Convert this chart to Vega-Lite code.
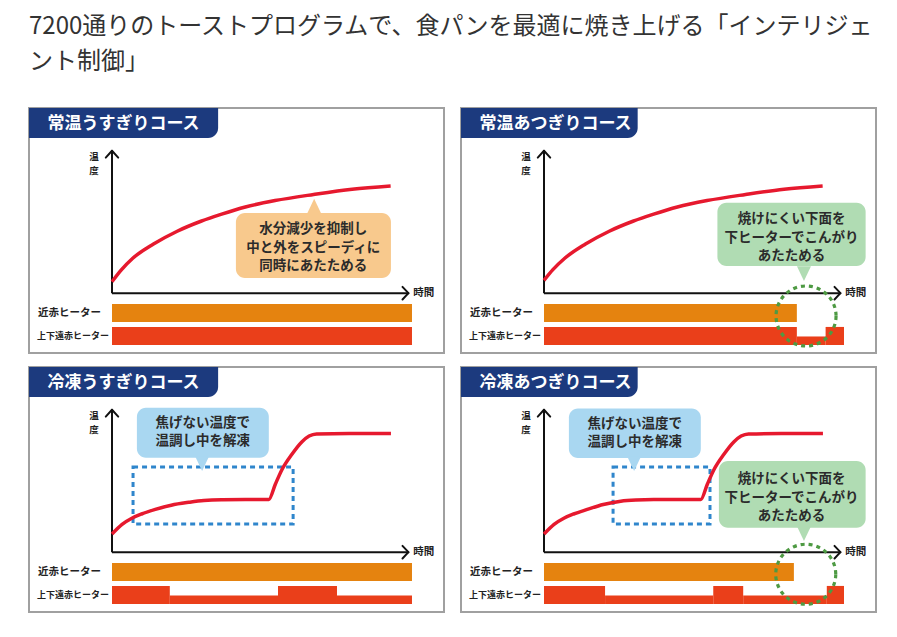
{
  "$schema": "https://vega.github.io/schema/vega-lite/v6.json",
  "background": "white",
  "padding": {"left": 28, "top": 15, "right": 0, "bottom": 0},
  "title": {
    "text": ["7200通りのトーストプログラムで、食パンを最適に焼き上げる「インテリジェ", "ント制御」"],
    "anchor": "start",
    "frame": "group",
    "font": "Noto Sans CJK JP",
    "fontSize": 24,
    "fontWeight": "normal",
    "color": "#333333",
    "lineHeight": 35,
    "offset": 33
  },
  "data": {
    "values": [
      {"kind": "tab", "course": "常温うすぎりコース"},
      {"kind": "tab", "course": "常温あつぎりコース"},
      {"kind": "tab", "course": "冷凍うすぎりコース"},
      {"kind": "tab", "course": "冷凍あつぎりコース"},

      {"kind": "temp", "course": "常温うすぎりコース", "time": 0, "temp": 8},
      {"kind": "temp", "course": "常温うすぎりコース", "time": 3, "temp": 16},
      {"kind": "temp", "course": "常温うすぎりコース", "time": 7, "temp": 24.5},
      {"kind": "temp", "course": "常温うすぎりコース", "time": 14, "temp": 34.5},
      {"kind": "temp", "course": "常温うすぎりコース", "time": 22, "temp": 43.5},
      {"kind": "temp", "course": "常温うすぎりコース", "time": 30, "temp": 50.5},
      {"kind": "temp", "course": "常温うすぎりコース", "time": 37, "temp": 55.5},
      {"kind": "temp", "course": "常温うすぎりコース", "time": 45, "temp": 60.5},
      {"kind": "temp", "course": "常温うすぎりコース", "time": 55, "temp": 65},
      {"kind": "temp", "course": "常温うすぎりコース", "time": 68, "temp": 69.3},
      {"kind": "temp", "course": "常温うすぎりコース", "time": 81, "temp": 73},
      {"kind": "temp", "course": "常温うすぎりコース", "time": 94, "temp": 75.3},

      {"kind": "temp", "course": "常温あつぎりコース", "time": 0, "temp": 9},
      {"kind": "temp", "course": "常温あつぎりコース", "time": 3, "temp": 16.5},
      {"kind": "temp", "course": "常温あつぎりコース", "time": 7, "temp": 24.5},
      {"kind": "temp", "course": "常温あつぎりコース", "time": 14, "temp": 34.5},
      {"kind": "temp", "course": "常温あつぎりコース", "time": 22, "temp": 43.5},
      {"kind": "temp", "course": "常温あつぎりコース", "time": 30, "temp": 50.5},
      {"kind": "temp", "course": "常温あつぎりコース", "time": 37, "temp": 55.5},
      {"kind": "temp", "course": "常温あつぎりコース", "time": 45, "temp": 60.5},
      {"kind": "temp", "course": "常温あつぎりコース", "time": 55, "temp": 65},
      {"kind": "temp", "course": "常温あつぎりコース", "time": 68, "temp": 69.3},
      {"kind": "temp", "course": "常温あつぎりコース", "time": 81, "temp": 73},
      {"kind": "temp", "course": "常温あつぎりコース", "time": 94, "temp": 75.3},

      {"kind": "temp", "course": "冷凍うすぎりコース", "time": 0, "temp": 12.7},
      {"kind": "temp", "course": "冷凍うすぎりコース", "time": 3.4, "temp": 19.5},
      {"kind": "temp", "course": "冷凍うすぎりコース", "time": 6.7, "temp": 23.8},
      {"kind": "temp", "course": "冷凍うすぎりコース", "time": 10, "temp": 26.8},
      {"kind": "temp", "course": "冷凍うすぎりコース", "time": 14.6, "temp": 30},
      {"kind": "temp", "course": "冷凍うすぎりコース", "time": 20, "temp": 33},
      {"kind": "temp", "course": "冷凍うすぎりコース", "time": 25.9, "temp": 35},
      {"kind": "temp", "course": "冷凍うすぎりコース", "time": 31, "temp": 36.3},
      {"kind": "temp", "course": "冷凍うすぎりコース", "time": 37, "temp": 36.8},
      {"kind": "temp", "course": "冷凍うすぎりコース", "time": 45, "temp": 36.9},
      {"kind": "temp", "course": "冷凍うすぎりコース", "time": 52.9, "temp": 37},
      {"kind": "temp", "course": "冷凍うすぎりコース", "time": 55.1, "temp": 47.7},
      {"kind": "temp", "course": "冷凍うすぎりコース", "time": 57.4, "temp": 58.2},
      {"kind": "temp", "course": "冷凍うすぎりコース", "time": 60.7, "temp": 68.7},
      {"kind": "temp", "course": "冷凍うすぎりコース", "time": 64.1, "temp": 77.5},
      {"kind": "temp", "course": "冷凍うすぎりコース", "time": 66.5, "temp": 81.5},
      {"kind": "temp", "course": "冷凍うすぎりコース", "time": 69, "temp": 83},
      {"kind": "temp", "course": "冷凍うすぎりコース", "time": 80, "temp": 83.3},
      {"kind": "temp", "course": "冷凍うすぎりコース", "time": 94.1, "temp": 83.3},

      {"kind": "temp", "course": "冷凍あつぎりコース", "time": 0, "temp": 12.7},
      {"kind": "temp", "course": "冷凍あつぎりコース", "time": 3.4, "temp": 19.5},
      {"kind": "temp", "course": "冷凍あつぎりコース", "time": 6.7, "temp": 23.8},
      {"kind": "temp", "course": "冷凍あつぎりコース", "time": 10, "temp": 26.8},
      {"kind": "temp", "course": "冷凍あつぎりコース", "time": 14.6, "temp": 30},
      {"kind": "temp", "course": "冷凍あつぎりコース", "time": 20, "temp": 33.5},
      {"kind": "temp", "course": "冷凍あつぎりコース", "time": 25.9, "temp": 35.8},
      {"kind": "temp", "course": "冷凍あつぎりコース", "time": 31, "temp": 36.6},
      {"kind": "temp", "course": "冷凍あつぎりコース", "time": 37, "temp": 36.9},
      {"kind": "temp", "course": "冷凍あつぎりコース", "time": 45, "temp": 36.9},
      {"kind": "temp", "course": "冷凍あつぎりコース", "time": 52.9, "temp": 37},
      {"kind": "temp", "course": "冷凍あつぎりコース", "time": 55.1, "temp": 47.7},
      {"kind": "temp", "course": "冷凍あつぎりコース", "time": 57.4, "temp": 58.2},
      {"kind": "temp", "course": "冷凍あつぎりコース", "time": 60.7, "temp": 68.7},
      {"kind": "temp", "course": "冷凍あつぎりコース", "time": 64.1, "temp": 77.5},
      {"kind": "temp", "course": "冷凍あつぎりコース", "time": 66.5, "temp": 81.5},
      {"kind": "temp", "course": "冷凍あつぎりコース", "time": 69, "temp": 83},
      {"kind": "temp", "course": "冷凍あつぎりコース", "time": 80, "temp": 83.3},
      {"kind": "temp", "course": "冷凍あつぎりコース", "time": 94.1, "temp": 83.3},

      {"kind": "heater", "course": "常温うすぎりコース", "heater": "近赤ヒーター", "level": "強", "start": 0, "end": 101.2},
      {"kind": "heater", "course": "常温うすぎりコース", "heater": "上下遠赤ヒーター", "level": "強", "start": 0, "end": 101.2},

      {"kind": "heater", "course": "常温あつぎりコース", "heater": "近赤ヒーター", "level": "強", "start": 0, "end": 85.3},
      {"kind": "heater", "course": "常温あつぎりコース", "heater": "上下遠赤ヒーター", "level": "強", "start": 0, "end": 85.3},
      {"kind": "heater", "course": "常温あつぎりコース", "heater": "上下遠赤ヒーター", "level": "弱", "start": 85.3, "end": 95},
      {"kind": "heater", "course": "常温あつぎりコース", "heater": "上下遠赤ヒーター", "level": "強", "start": 95, "end": 101.2},

      {"kind": "heater", "course": "冷凍うすぎりコース", "heater": "近赤ヒーター", "level": "強", "start": 0, "end": 101.2},
      {"kind": "heater", "course": "冷凍うすぎりコース", "heater": "上下遠赤ヒーター", "level": "強", "start": 0, "end": 19.5},
      {"kind": "heater", "course": "冷凍うすぎりコース", "heater": "上下遠赤ヒーター", "level": "弱", "start": 19.5, "end": 56},
      {"kind": "heater", "course": "冷凍うすぎりコース", "heater": "上下遠赤ヒーター", "level": "強", "start": 56, "end": 75.9},
      {"kind": "heater", "course": "冷凍うすぎりコース", "heater": "上下遠赤ヒーター", "level": "弱", "start": 75.9, "end": 101.2},

      {"kind": "heater", "course": "冷凍あつぎりコース", "heater": "近赤ヒーター", "level": "強", "start": 0, "end": 84.3},
      {"kind": "heater", "course": "冷凍あつぎりコース", "heater": "上下遠赤ヒーター", "level": "強", "start": 0, "end": 20.6},
      {"kind": "heater", "course": "冷凍あつぎりコース", "heater": "上下遠赤ヒーター", "level": "弱", "start": 20.6, "end": 57.1},
      {"kind": "heater", "course": "冷凍あつぎりコース", "heater": "上下遠赤ヒーター", "level": "強", "start": 57.1, "end": 67.2},
      {"kind": "heater", "course": "冷凍あつぎりコース", "heater": "上下遠赤ヒーター", "level": "弱", "start": 67.2, "end": 95.4},
      {"kind": "heater", "course": "冷凍あつぎりコース", "heater": "上下遠赤ヒーター", "level": "強", "start": 95.4, "end": 101.2},

      {"kind": "hold", "course": "冷凍うすぎりコース", "t0": 7.1, "t1": 61.1, "lo": 19.8, "hi": 59.8},
      {"kind": "hold", "course": "冷凍あつぎりコース", "t0": 23.3, "t1": 56, "lo": 19.8, "hi": 59.8},

      {"kind": "focus", "course": "常温あつぎりコース", "time": 88.4, "temp": -16},
      {"kind": "focus", "course": "冷凍あつぎりコース", "time": 88.3, "temp": -15.5},

      {"kind": "note", "course": "常温うすぎりコース", "topic": "加熱", "x0": 41.8, "x1": 94.1, "y0": 10.7, "y1": 56.3, "tx": 68.2, "ty": 66.3, "lx": 67.9, "ly": 44.9, "label": "水分減少を抑制し\n中と外をスピーディに\n同時にあたためる"},
      {"kind": "note", "course": "常温あつぎりコース", "topic": "下面", "x0": 58.5, "x1": 108.5, "y0": 19.1, "y1": 63.5, "tx": 87.7, "ty": 8.6, "lx": 83.5, "ly": 51.9, "label": "焼けにくい下面を\n下ヒーターでこんがり\nあたためる"},
      {"kind": "note", "course": "冷凍うすぎりコース", "topic": "解凍", "x0": 8.4, "x1": 52.9, "y0": 66.3, "y1": 101.4, "tx": 30.4, "ty": 57, "lx": 30.6, "ly": 90.6, "label": "焦げない温度で\n温調し中を解凍"},
      {"kind": "note", "course": "冷凍あつぎりコース", "topic": "解凍", "x0": 8.4, "x1": 52.9, "y0": 66.1, "y1": 100.8, "tx": 30.4, "ty": 57, "lx": 30.6, "ly": 90.2, "label": "焦げない温度で\n温調し中を解凍"},
      {"kind": "note", "course": "冷凍あつぎりコース", "topic": "下面", "x0": 59, "x1": 108.5, "y0": 17.2, "y1": 64, "tx": 87.7, "ty": 7.9, "lx": 83.5, "ly": 51.2, "label": "焼けにくい下面を\n下ヒーターでこんがり\nあたためる"}
    ]
  },
  "facet": {
    "field": "course",
    "type": "nominal",
    "sort": ["常温うすぎりコース", "常温あつぎりコース", "冷凍うすぎりコース", "冷凍あつぎりコース"],
    "header": {"title": null, "labels": false, "labelExpr": "''", "labelFontSize": 0, "labelPadding": 0}
  },
  "columns": 2,
  "spacing": {"row": 14, "column": 17},
  "bounds": "flush",
  "spec": {
    "width": 415,
    "height": 245,
    "layer": [
      {
        "transform": [{"filter": "datum.kind === 'tab' && indexof(datum.course, 'うす') >= 0"}],
        "mark": {"type": "rect", "color": "#1c3a7e", "cornerRadiusBottomRight": 10},
        "encoding": {
          "x": {"datum": -28, "type": "quantitative", "scale": {"domain": [-28, 112], "nice": false, "zero": false}, "axis": null},
          "x2": {"datum": 35.8},
          "y": {"datum": 109, "type": "quantitative", "scale": {"domain": [-42, 130], "nice": false, "zero": false}, "axis": null},
          "y2": {"datum": 130}
        }
      },
      {
        "transform": [{"filter": "datum.kind === 'tab' && indexof(datum.course, 'あつ') >= 0"}],
        "mark": {"type": "rect", "color": "#1c3a7e", "cornerRadiusBottomRight": 10},
        "encoding": {
          "x": {"datum": -28, "type": "quantitative", "axis": null},
          "x2": {"datum": 31.6},
          "y": {"datum": 109, "type": "quantitative", "axis": null},
          "y2": {"datum": 130}
        }
      },
      {
        "transform": [{"filter": "datum.kind === 'tab'"}],
        "mark": {"type": "text", "color": "white", "fontSize": 17, "fontWeight": "bold", "align": "left", "baseline": "middle"},
        "encoding": {
          "x": {"datum": -21.8, "type": "quantitative", "axis": null},
          "y": {"datum": 118.6, "type": "quantitative", "axis": null},
          "text": {"field": "course"}
        }
      },
      {
        "transform": [{"filter": "datum.kind === 'tab'"}],
        "mark": {"type": "rule", "color": "#111111", "strokeWidth": 2},
        "encoding": {
          "x": {"datum": 0, "type": "quantitative", "axis": null},
          "y": {"datum": 0, "type": "quantitative", "axis": null},
          "y2": {"datum": 100}
        }
      },
      {
        "transform": [{"filter": "datum.kind === 'tab'"}],
        "mark": {"type": "rule", "color": "#111111", "strokeWidth": 2},
        "encoding": {
          "x": {"datum": 0, "type": "quantitative", "axis": null},
          "x2": {"datum": 100},
          "y": {"datum": 0, "type": "quantitative", "axis": null}
        }
      },
      {
        "transform": [{"filter": "datum.kind === 'tab'"}],
        "mark": {"type": "rule", "color": "#111111", "strokeWidth": 2, "strokeCap": "round"},
        "encoding": {
          "x": {"datum": 0, "type": "quantitative", "axis": null},
          "y": {"datum": 100, "type": "quantitative", "axis": null},
          "x2": {"datum": -2.1},
          "y2": {"datum": 95.2}
        }
      },
      {
        "transform": [{"filter": "datum.kind === 'tab'"}],
        "mark": {"type": "rule", "color": "#111111", "strokeWidth": 2, "strokeCap": "round"},
        "encoding": {
          "x": {"datum": 0, "type": "quantitative", "axis": null},
          "y": {"datum": 100, "type": "quantitative", "axis": null},
          "x2": {"datum": 2.1},
          "y2": {"datum": 95.2}
        }
      },
      {
        "transform": [{"filter": "datum.kind === 'tab'"}],
        "mark": {"type": "rule", "color": "#111111", "strokeWidth": 2, "strokeCap": "round"},
        "encoding": {
          "x": {"datum": 100, "type": "quantitative", "axis": null},
          "y": {"datum": 0, "type": "quantitative", "axis": null},
          "x2": {"datum": 98},
          "y2": {"datum": 4.4}
        }
      },
      {
        "transform": [{"filter": "datum.kind === 'tab'"}],
        "mark": {"type": "rule", "color": "#111111", "strokeWidth": 2, "strokeCap": "round"},
        "encoding": {
          "x": {"datum": 100, "type": "quantitative", "axis": null},
          "y": {"datum": 0, "type": "quantitative", "axis": null},
          "x2": {"datum": 98},
          "y2": {"datum": -4.4}
        }
      },
      {
        "transform": [{"filter": "datum.kind === 'tab'"}],
        "mark": {"type": "text", "color": "#222222", "fontSize": 9.5, "fontWeight": "bold", "align": "center", "baseline": "middle"},
        "encoding": {
          "x": {"datum": -6.1, "type": "quantitative", "axis": null},
          "y": {"datum": 95.6, "type": "quantitative", "axis": null},
          "text": {"value": "温"}
        }
      },
      {
        "transform": [{"filter": "datum.kind === 'tab'"}],
        "mark": {"type": "text", "color": "#222222", "fontSize": 9.5, "fontWeight": "bold", "align": "center", "baseline": "middle"},
        "encoding": {
          "x": {"datum": -6.1, "type": "quantitative", "axis": null},
          "y": {"datum": 85.8, "type": "quantitative", "axis": null},
          "text": {"value": "度"}
        }
      },
      {
        "transform": [{"filter": "datum.kind === 'tab'"}],
        "mark": {"type": "text", "color": "#222222", "fontSize": 10.5, "fontWeight": "bold", "align": "left", "baseline": "middle"},
        "encoding": {
          "x": {"datum": 101.6, "type": "quantitative", "axis": null},
          "y": {"datum": 0, "type": "quantitative", "axis": null},
          "text": {"value": "時間"}
        }
      },
      {
        "transform": [{"filter": "datum.kind === 'tab'"}],
        "mark": {"type": "text", "color": "#222222", "fontSize": 10.5, "fontWeight": "bold", "align": "left", "baseline": "middle"},
        "encoding": {
          "x": {"datum": -25, "type": "quantitative", "axis": null},
          "y": {"datum": -13.9, "type": "quantitative", "axis": null},
          "text": {"value": "近赤ヒーター"}
        }
      },
      {
        "transform": [{"filter": "datum.kind === 'tab'"}],
        "mark": {"type": "text", "color": "#222222", "fontSize": 9, "fontWeight": "bold", "align": "left", "baseline": "middle"},
        "encoding": {
          "x": {"datum": -25.3, "type": "quantitative", "axis": null},
          "y": {"datum": -30, "type": "quantitative", "axis": null},
          "text": {"value": "上下遠赤ヒーター"}
        }
      },
      {
        "transform": [{"filter": "datum.kind === 'heater' && datum.heater === '近赤ヒーター'"}],
        "mark": {"type": "rect", "color": "#e5830f"},
        "encoding": {
          "x": {"field": "start", "type": "quantitative", "axis": null},
          "x2": {"field": "end"},
          "y": {"datum": -7.6, "type": "quantitative", "axis": null},
          "y2": {"datum": -20.2}
        }
      },
      {
        "transform": [{"filter": "datum.kind === 'heater' && datum.heater === '上下遠赤ヒーター' && datum.level === '強'"}],
        "mark": {"type": "rect", "color": "#ea3f1a"},
        "encoding": {
          "x": {"field": "start", "type": "quantitative", "axis": null},
          "x2": {"field": "end"},
          "y": {"datum": -23.7, "type": "quantitative", "axis": null},
          "y2": {"datum": -36.4}
        }
      },
      {
        "transform": [{"filter": "datum.kind === 'heater' && datum.heater === '上下遠赤ヒーター' && datum.level === '弱'"}],
        "mark": {"type": "rect", "color": "#ea3f1a"},
        "encoding": {
          "x": {"field": "start", "type": "quantitative", "axis": null},
          "x2": {"field": "end"},
          "y": {"datum": -30.4, "type": "quantitative", "axis": null},
          "y2": {"datum": -36.4}
        }
      },
      {
        "transform": [{"filter": "datum.kind === 'hold'"}],
        "mark": {"type": "rect", "fill": "transparent", "stroke": "#2f86cc", "strokeWidth": 3, "strokeDash": [5, 4]},
        "encoding": {
          "x": {"field": "t0", "type": "quantitative", "axis": null},
          "x2": {"field": "t1"},
          "y": {"field": "lo", "type": "quantitative", "axis": null},
          "y2": {"field": "hi"}
        }
      },
      {
        "transform": [{"filter": "datum.kind === 'temp'"}],
        "mark": {"type": "line", "color": "#e6192e", "strokeWidth": 3.5, "interpolate": "monotone"},
        "encoding": {
          "x": {"field": "time", "type": "quantitative", "axis": null},
          "y": {"field": "temp", "type": "quantitative", "axis": null}
        }
      },
      {
        "transform": [{"filter": "datum.kind === 'note'"}],
        "mark": {"type": "rect", "cornerRadius": 9},
        "encoding": {
          "x": {"field": "x0", "type": "quantitative", "axis": null},
          "x2": {"field": "x1"},
          "y": {"field": "y0", "type": "quantitative", "axis": null},
          "y2": {"field": "y1"},
          "fill": {"field": "topic", "type": "nominal", "legend": null, "scale": {"domain": ["加熱", "下面", "解凍"], "range": ["#f8c98d", "#b0dcb3", "#a9d7f1"]}}
        }
      },
      {
        "transform": [{"filter": "datum.kind === 'note'"}],
        "mark": {"type": "point", "filled": true, "opacity": 1, "size": 196, "strokeWidth": 0},
        "encoding": {
          "x": {"field": "tx", "type": "quantitative", "axis": null},
          "y": {"field": "ty", "type": "quantitative", "axis": null},
          "fill": {"field": "topic", "type": "nominal", "legend": null},
          "shape": {"field": "topic", "type": "nominal", "legend": null, "scale": {"domain": ["加熱", "下面", "解凍"], "range": ["M0,0L1,2.1L-1,2.1Z", "M0,0L1,-2.1L-1,-2.1Z", "M0,0L1,-2.1L-1,-2.1Z"]}}
        }
      },
      {
        "transform": [{"filter": "datum.kind === 'note'"}],
        "mark": {"type": "text", "color": "#2b2b2b", "fontSize": 13.5, "fontWeight": "bold", "align": "center", "baseline": "middle", "lineBreak": "\n", "lineHeight": 18.3},
        "encoding": {
          "x": {"field": "lx", "type": "quantitative", "axis": null},
          "y": {"field": "ly", "type": "quantitative", "axis": null},
          "text": {"field": "label"}
        }
      },
      {
        "transform": [{"filter": "datum.kind === 'focus'"}],
        "mark": {"type": "point", "shape": "circle", "filled": false, "opacity": 1, "size": 3600, "stroke": "#4e9a43", "strokeWidth": 3.2, "strokeDash": [4, 4]},
        "encoding": {
          "x": {"field": "time", "type": "quantitative", "axis": null},
          "y": {"field": "temp", "type": "quantitative", "axis": null}
        }
      }
    ]
  },
  "config": {
    "font": "Noto Sans CJK JP",
    "view": {"stroke": "#a0a0a0", "strokeWidth": 2},
    "header": {"labels": false, "title": null},
    "headerFacet": {"labels": false, "title": null}
  }
}
